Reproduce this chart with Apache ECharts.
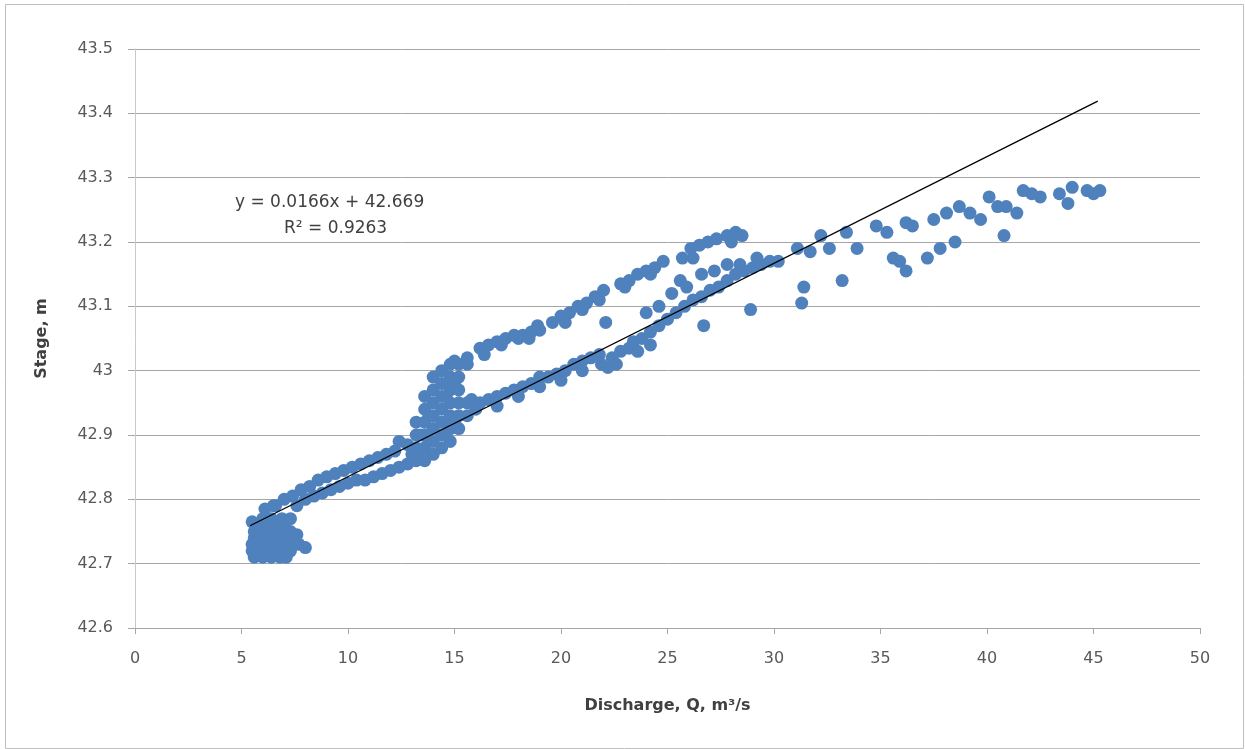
<!DOCTYPE html>
<html>
<head>
<meta charset="utf-8">
<script src="https://cdn.jsdelivr.net/npm/echarts@6/dist/echarts.min.js"></script>
<style>html,body{margin:0;padding:0;background:#fff}#c{width:1245px;height:749px}</style>
</head>
<body>
<div id="c"></div>
<script>
// ---- Data ----
const discharge = [
  // low-flow cluster
  5.6,6.0,6.4,6.8,7.1, 5.5,5.9,6.3,6.7,7.0,7.3, 5.5,5.9,6.3,6.7,7.1,7.4, 5.6,6.0,6.4,6.8,7.2,
  5.6,6.0,6.4,6.8,7.3, 5.8,6.2,6.6,7.0, 6.0,6.4,6.9,7.3, 7.6,7.7,8.0,5.5,6.1,6.5,
  // band, upper row
  6.6,7.0,7.4,7.8,8.2,8.6,9.0,9.4,9.8,10.2,10.6,11.0,11.4,11.8,12.2,12.4,12.8,
  // band, lower row
  7.6,8.0,8.4,8.8,9.2,9.6,10.0,10.4,10.8,11.2,11.6,12.0,12.4,12.8,13.0,
  // spread around 13-16
  13.2,13.2,13.2,13.2, 13.6,13.6,13.6,13.6,13.6,13.6, 14.0,14.0,14.0,14.0,14.0,14.0,14.0,
  14.4,14.4,14.4,14.4,14.4,14.4,14.4, 14.8,14.8,14.8,14.8,14.8,14.8,14.8, 15.2,15.2,15.2,15.2,15.2,15.2,
  15.6,15.6,15.6,15.6, 13.4,13.4,13.8,13.8,14.6,14.6,15.0,15.0,15.0,
  // upper branch 16-19
  16.2,16.6,17.0,17.4,17.8,18.2,18.6,18.9,16.4,17.2,18.0,18.5,
  // upper branch 19-28.5
  19.0,19.6,20.0,20.4,20.8,21.2,21.6,22.0,20.2,21.0,21.8,
  22.8,23.2,23.6,24.0,24.4,24.8,23.0,24.2,
  25.7,26.1,26.5,26.9,26.2,27.3,27.8,28.2,28.5,28.0,
  // lower branch 15.8-23
  15.8,16.0,16.2,16.6,17.0,17.4,17.8,18.2,18.6,19.0,19.4,19.8,20.2,20.6,21.0,21.4,21.8,
  17.0,18.0,19.0,20.0,21.0,21.9,22.4,22.8,23.2,22.2,22.6,22.1,
  // lower branch 23-30
  23.4,23.8,24.2,24.6,25.0,25.4,25.8,26.2,26.6,27.0,27.4,27.8,28.2,28.6,29.0,29.4,29.8,30.2,
  24.0,24.6,25.2,25.6,25.9,26.6,27.2,27.8,28.4,29.2,
  23.6,24.2,26.7,28.9,
  // high flows
  31.1,31.7,31.4,31.3,32.2,32.6,33.2,33.4,33.9,34.8,35.3,36.2,36.5,35.6,35.9,36.2,
  37.2,37.5,37.8,38.1,38.5,38.7,39.2,39.7,40.1,40.5,40.8,40.9,41.4,41.7,42.1,42.5,
  43.4,43.8,44.0,44.7,45.0,45.3
];
const stage = [
  42.71,42.71,42.71,42.71,42.71, 42.72,42.72,42.72,42.72,42.72,42.72, 42.73,42.73,42.73,42.73,42.73,42.73, 42.74,42.74,42.74,42.74,42.74,
  42.75,42.75,42.75,42.75,42.75, 42.76,42.76,42.76,42.76, 42.77,42.77,42.77,42.77, 42.745,42.73,42.725,42.765,42.785,42.79,
  42.79,42.80,42.805,42.815,42.82,42.83,42.835,42.84,42.845,42.85,42.855,42.86,42.865,42.87,42.875,42.89,42.885,
  42.79,42.80,42.805,42.81,42.815,42.82,42.825,42.83,42.83,42.835,42.84,42.845,42.85,42.855,42.87,
  42.86,42.88,42.90,42.92, 42.86,42.88,42.90,42.92,42.94,42.96, 42.87,42.89,42.91,42.93,42.95,42.97,42.99,
  42.88,42.90,42.92,42.94,42.96,42.98,43.00, 42.89,42.91,42.93,42.95,42.97,42.99,43.01, 42.91,42.93,42.95,42.97,42.99,43.01,
  42.93,42.95,43.01,43.02, 42.87,42.90,42.89,42.93,42.90,42.96,42.92,42.98,43.015,
  43.035,43.04,43.045,43.05,43.055,43.055,43.06,43.07,43.025,43.04,43.05,43.05,
  43.063,43.075,43.085,43.09,43.10,43.105,43.115,43.125,43.075,43.095,43.11,
  43.135,43.14,43.15,43.155,43.16,43.17,43.13,43.15,
  43.175,43.19,43.195,43.20,43.175,43.205,43.21,43.215,43.21,43.20,
  42.955,42.94,42.95,42.955,42.96,42.965,42.97,42.975,42.98,42.99,42.99,42.995,43.00,43.01,43.015,43.02,43.025,
  42.945,42.96,42.975,42.985,43.00,43.01,43.02,43.03,43.035,43.005,43.01,43.075,
  43.045,43.05,43.06,43.07,43.08,43.09,43.10,43.11,43.115,43.125,43.13,43.14,43.15,43.155,43.16,43.165,43.17,43.17,
  43.09,43.10,43.12,43.14,43.13,43.15,43.155,43.165,43.165,43.175,
  43.03,43.04,43.07,43.095,
  43.19,43.185,43.13,43.105,43.21,43.19,43.14,43.215,43.19,43.225,43.215,43.23,43.225,43.175,43.17,43.155,
  43.175,43.235,43.19,43.245,43.20,43.255,43.245,43.235,43.27,43.255,43.21,43.255,43.245,43.28,43.275,43.27,
  43.275,43.26,43.285,43.28,43.275,43.28
];
const trendDischarge = [5.4, 45.2];
const trendStage = [42.759, 43.419];
const equationText = 'y = 0.0166x + 42.669';
const r2Text = 'R\u00b2 = 0.9263';
const xTitle = 'Discharge, Q, m\u00b3/s';
const yTitle = 'Stage, m';

const points = discharge.map((d, i) => [d, stage[i]]);
const trend = trendDischarge.map((d, i) => [d, trendStage[i]]);

const chart = echarts.init(document.getElementById('c'), null, {renderer: 'canvas'});
const FONT = 'DejaVu Sans';
chart.setOption({
  animation: false,
  backgroundColor: '#ffffff',
  grid: {left: 135, right: 45, top: 49, bottom: 121},
  xAxis: {
    type: 'value', min: 0, max: 50, interval: 5,
    name: xTitle, nameLocation: 'middle', nameGap: 70,
    nameTextStyle: {fontFamily: FONT, fontSize: 16, fontWeight: 'bold', color: '#404040'},
    axisLine: {show: true, lineStyle: {color: '#a6a6a6', width: 1}},
    axisTick: {show: true, length: 6, lineStyle: {color: '#a6a6a6'}},
    axisLabel: {fontFamily: FONT, fontSize: 16, color: '#595959', margin: 23},
    splitLine: {show: false}
  },
  yAxis: {
    type: 'value', min: 42.6, max: 43.5, interval: 0.1,
    name: yTitle, nameLocation: 'middle', nameGap: 85, nameRotate: 90,
    nameTextStyle: {fontFamily: FONT, fontSize: 16, fontWeight: 'bold', color: '#404040'},
    axisLine: {show: true, lineStyle: {color: '#c8c8c8', width: 1}},
    axisTick: {show: true, length: 7, lineStyle: {color: '#a6a6a6'}},
    axisLabel: {fontFamily: FONT, fontSize: 16, color: '#595959', margin: 22,
      formatter: v => String(+v.toFixed(1))},
    splitLine: {show: true, lineStyle: {color: '#a6a6a6', width: 1}}
  },
  series: [
    {type: 'scatter', data: points, symbol: 'circle', symbolSize: 13,
     itemStyle: {color: '#4f81bd', opacity: 1}},
    {type: 'line', data: trend, symbol: 'none', lineStyle: {color: '#000000', width: 1.3}, z: 5}
  ],
  graphic: [
    {type: 'rect', left: 3, top: 2, shape: {width: 1238, height: 744},
     style: {fill: 'none', stroke: '#bfbfbf', lineWidth: 1}, silent: true},
    {type: 'text', left: 235, top: 194,
     style: {text: equationText, fontFamily: FONT, fontSize: 17, fill: '#404040'}},
    {type: 'text', left: 284, top: 220,
     style: {text: r2Text, fontFamily: FONT, fontSize: 17, fill: '#404040'}}
  ]
});
</script>
</body>
</html>
